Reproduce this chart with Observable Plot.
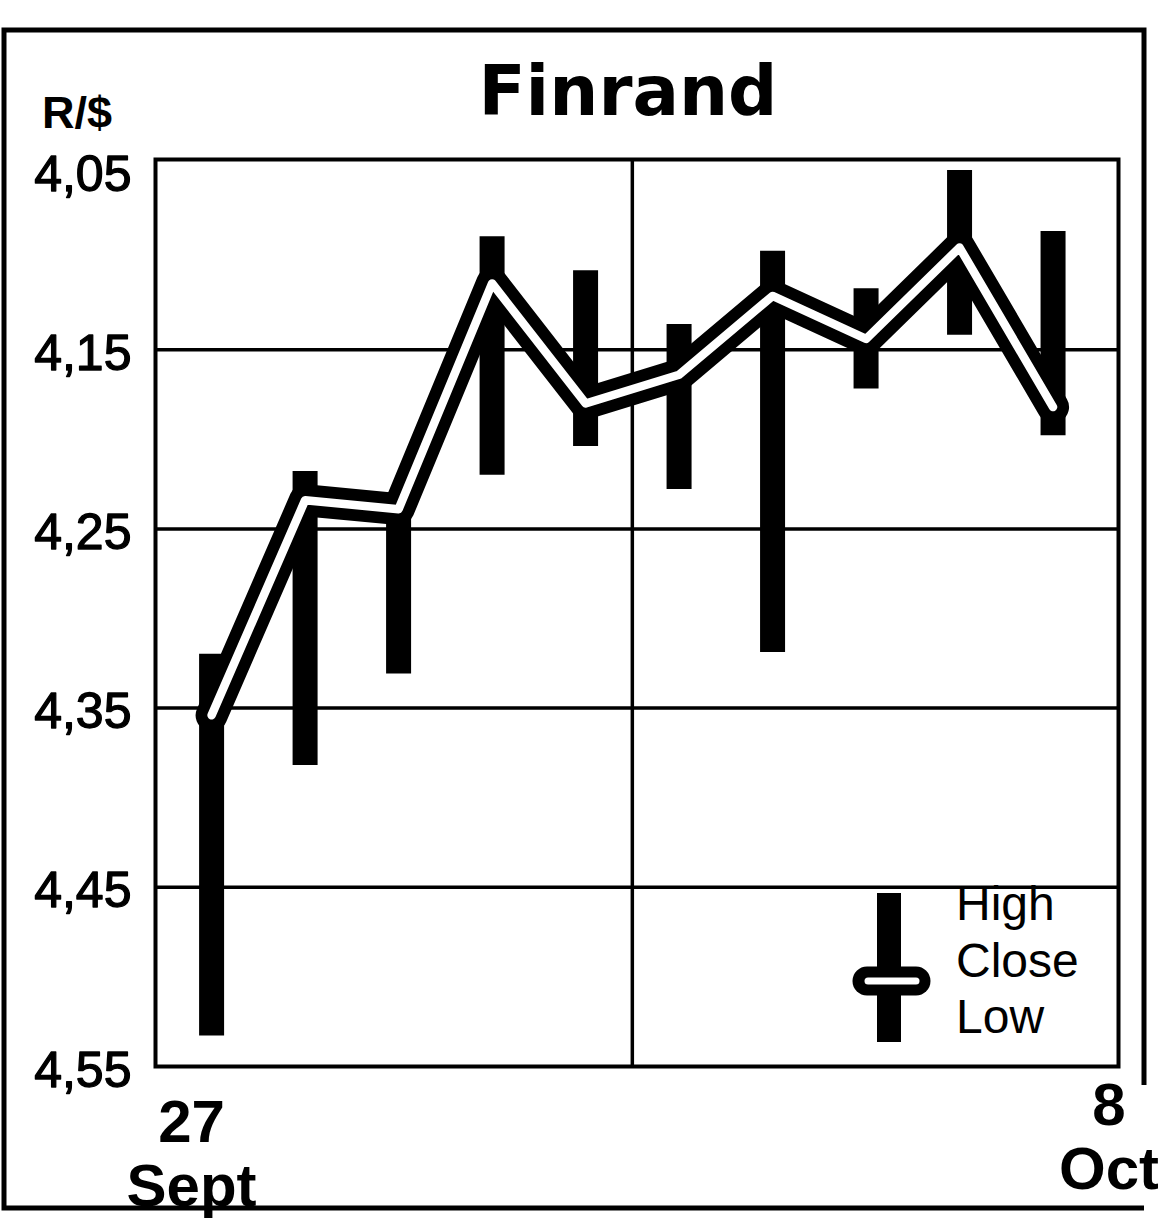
<!DOCTYPE html>
<html>
<head>
<meta charset="utf-8">
<script src="https://cdn.jsdelivr.net/npm/d3@7"></script>
<script src="https://cdn.jsdelivr.net/npm/@observablehq/plot@0.6"></script>
<style>
  html, body { margin: 0; padding: 0; background: #fff; }
  #wrap { position: relative; width: 1158px; height: 1220px; overflow: hidden; background: #fff; }
  #wrap > svg { position: absolute; left: 0; top: 0; }
  #overlay { pointer-events: none; }
</style>
</head>
<body>
<div id="wrap"></div>
<script>
// ---- data ----
const days  = ["27 Sept", "28 Sept", "29 Sept", "30 Sept", "1 Oct", "4 Oct", "5 Oct", "6 Oct", "7 Oct", "8 Oct"];
const high  = [4.320, 4.218, 4.233, 4.087, 4.106, 4.136, 4.095, 4.116, 4.050, 4.084];
const close = [4.354, 4.234, 4.239, 4.113, 4.180, 4.164, 4.120, 4.144, 4.093, 4.182];
const low   = [4.533, 4.382, 4.331, 4.220, 4.204, 4.228, 4.319, 4.172, 4.142, 4.198];
const yTicks = [4.05, 4.15, 4.25, 4.35, 4.45, 4.55];
const yGrid  = [4.15, 4.25, 4.35, 4.45];
const firstLabel = ["27", "Sept"];
const lastLabel  = ["8", "Oct"];
const legendLabels = ["High", "Close", "Low"];
const title = "Finrand";
const unit = "R/$";

const table = days.map((d, i) => ({i, day: d, high: high[i], close: close[i], low: low[i]}));
const firstIdx = 0, lastIdx = days.length - 1;
const weekBreak = (days.indexOf("1 Oct") + days.indexOf("4 Oct")) / 2;
const fmt = v => v.toFixed(2).replace(".", ",");

const chart = Plot.plot({
  width: 1158,
  height: 1220,
  marginTop: 159,
  marginBottom: 154,
  marginLeft: 155,
  marginRight: 40,
  x: {domain: [-0.6, 9.7], axis: null},
  y: {domain: [4.05, 4.55], reverse: true, insetTop: 11, axis: null},
  style: {fontFamily: "'Liberation Sans', Arial, sans-serif", background: "transparent", color: "black"},
  marks: [
    Plot.ruleY(yGrid, {stroke: "black", strokeWidth: 3.5}),
    Plot.ruleX([weekBreak], {stroke: "black", strokeWidth: 3.5}),
    Plot.frame({stroke: "black", strokeWidth: 4}),
    Plot.ruleX(table, {x: "i", y1: "high", y2: "low", stroke: "black", strokeWidth: 25}),
    Plot.line(table, {x: "i", y: "close", stroke: "black", strokeWidth: 32, strokeLinejoin: "round", strokeLinecap: "round"}),
    Plot.line(table, {x: "i", y: "close", stroke: "white", strokeWidth: 8.5, strokeLinejoin: "round", strokeLinecap: "round"}),
    Plot.text(yTicks, {y: d => d, text: fmt, frameAnchor: "left", textAnchor: "end", dx: -24, dy: 4, fontSize: 50, fill: "black", stroke: "black", strokeWidth: 1.3}),
    Plot.text([firstIdx], {x: d => d, text: () => firstLabel.join("\n"), frameAnchor: "bottom", lineAnchor: "top", dy: 29, dx: -20, fontSize: 60, fontWeight: "bold", lineHeight: 1.08, fill: "black"}),
    Plot.text([lastIdx], {x: d => d, text: () => lastLabel.join("\n"), frameAnchor: "bottom", lineAnchor: "top", dy: 12, dx: 56, fontSize: 60, fontWeight: "bold", lineHeight: 1.08, fill: "black"})
  ]
});
document.getElementById("wrap").appendChild(chart);

// ---- overlay: outer border, title, unit label, legend ----
const ov = d3.select("#wrap").append("svg").attr("id", "overlay").attr("width", 1158).attr("height", 1220);
ov.append("path")
  .attr("d", "M1144,1085 L1144,30 L4,30 L4,1208 L1144,1208")
  .attr("fill", "none").attr("stroke", "black").attr("stroke-width", 5);
ov.append("text").attr("x", 628).attr("y", 115).attr("text-anchor", "middle")
  .attr("font-family", "'DejaVu Sans', sans-serif").attr("font-weight", "bold").attr("font-size", 69)
  .text(title);
ov.append("text").attr("x", 42).attr("y", 128)
  .attr("font-family", "'Liberation Sans', Arial, sans-serif").attr("font-weight", "bold").attr("font-size", 45)
  .text(unit);
// legend glyph
const lg = ov.append("g");
lg.append("rect").attr("x", 877).attr("y", 893).attr("width", 24).attr("height", 149).attr("fill", "black");
lg.append("line").attr("x1", 867).attr("x2", 916).attr("y1", 981).attr("y2", 981)
  .attr("stroke", "black").attr("stroke-width", 29).attr("stroke-linecap", "round");
lg.append("line").attr("x1", 868).attr("x2", 916).attr("y1", 981).attr("y2", 981)
  .attr("stroke", "white").attr("stroke-width", 7).attr("stroke-linecap", "round");
const legY = [920, 977, 1033];
legendLabels.forEach((t, k) => {
  lg.append("text").attr("x", 956).attr("y", legY[k])
    .attr("font-family", "'Liberation Sans', Arial, sans-serif").attr("font-size", 48).text(t);
});
</script>
</body>
</html>
